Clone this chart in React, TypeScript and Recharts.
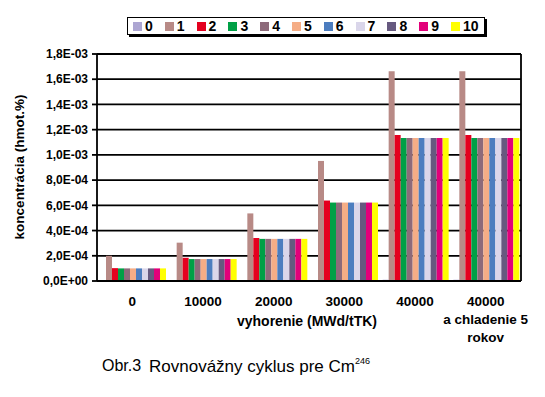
import React from "react";
import { BarChart, Bar, XAxis, YAxis, CartesianGrid, Legend, Label } from "recharts";

const categories = ["0", "10000", "20000", "30000", "40000", "40000\na chladenie 5\nrokov"];

const s0 = [0, 0, 0.000008, 0.000008, 0.00001, 0.00001];
const s1 = [0.0002, 0.000304, 0.000536, 0.000952, 0.001664, 0.001664];
const s2 = [0.000102, 0.000184, 0.000341, 0.000638, 0.001158, 0.001158];
const s3 = [0.0001, 0.000174, 0.000334, 0.000622, 0.001134, 0.001134];
const s4 = [0.0001, 0.000174, 0.000334, 0.000622, 0.001134, 0.001134];
const s5 = [0.0001, 0.000174, 0.000334, 0.000622, 0.001134, 0.001134];
const s6 = [0.0001, 0.000174, 0.000334, 0.000622, 0.001134, 0.001134];
const s7 = [0.0001, 0.000174, 0.000334, 0.000622, 0.001134, 0.001134];
const s8 = [0.0001, 0.000174, 0.000334, 0.000622, 0.001134, 0.001134];
const s9 = [0.0001, 0.000174, 0.000334, 0.000622, 0.001134, 0.001134];
const s10 = [0.0001, 0.000174, 0.000334, 0.000622, 0.001134, 0.001134];

const seriesNames = ["0", "1", "2", "3", "4", "5", "6", "7", "8", "9", "10"];
const seriesValues = [s0, s1, s2, s3, s4, s5, s6, s7, s8, s9, s10];
const seriesColors = [
  "#ada6d2",
  "#b88a86",
  "#e4001e",
  "#00a046",
  "#8d6a7a",
  "#f5ad86",
  "#4c7dbf",
  "#dad6ea",
  "#66597f",
  "#e2007a",
  "#ffff00",
];

const yTicks = [0, 0.0002, 0.0004, 0.0006, 0.0008, 0.001, 0.0012, 0.0014, 0.0016, 0.0018];

const data = categories.map((name, i) => {
  const row: Record<string, number | string> = { name };
  seriesNames.forEach((s, j) => {
    row["s" + s] = seriesValues[j][i];
  });
  return row;
});

const FONT = "'Liberation Sans', Arial, sans-serif";

function formatSci(v: number) {
  const [m, e] = v.toExponential(1).split("e");
  const sign = e.startsWith("-") ? "-" : "+";
  const exp = e.replace(/[+-]/, "").padStart(2, "0");
  return m.replace(".", ",") + "E" + sign + exp;
}

function CategoryTick(props: any) {
  const { x, y, payload } = props;
  const lines = String(payload.value).split("\n");
  return (
    <text x={x} y={y} textAnchor="middle" fontFamily={FONT} fontWeight="bold" fontSize={13.5} fill="#000">
      {lines.map((l, i) => (
        <tspan key={i} x={x} dy={i === 0 ? "0.71em" : 18}>
          {l}
        </tspan>
      ))}
    </text>
  );
}

function LegendBox() {
  return (
    <div
      style={{
        width: 358,
        height: 18,
        border: "1px solid #000",
        boxShadow: "2px 2px 0 #000",
        background: "#fff",
        display: "flex",
        alignItems: "center",
        paddingLeft: 5,
        boxSizing: "border-box",
        fontFamily: FONT,
        fontWeight: "bold",
        fontSize: 14,
      }}
    >
      {seriesNames.map((s, i) => (
        <div key={s} style={{ display: "flex", alignItems: "center", width: 31.8 }}>
          <span style={{ width: 9, height: 9, background: seriesColors[i], marginRight: 3, display: "inline-block" }} />
          <span style={{ lineHeight: "14px" }}>{s}</span>
        </div>
      ))}
    </div>
  );
}

export default function App() {
  return (
    <div style={{ position: "absolute", left: 0, top: 0, width: 545, height: 397, background: "#fff" }}>
      <BarChart
        width={545}
        height={397}
        data={data}
        margin={{ top: 54, right: 0, left: 0, bottom: 66 }}
        barCategoryGap={3}
        barGap={0}
      >
        <CartesianGrid vertical={false} stroke="#000" strokeWidth={1.8} />
        <XAxis
          dataKey="name"
          interval={0}
          height={50}
          tickLine={false}
          tickSize={6}
          tickMargin={9}
          axisLine={{ stroke: "#000", strokeWidth: 1.8 }}
          tick={<CategoryTick />}
        >
          <Label
            content={() => (
              <text x={307} y={321} textAnchor="middle" dominantBaseline="central" fontFamily={FONT} fontWeight="bold" fontSize={14} fill="#000">
                vyhorenie (MWd/tTK)
              </text>
            )}
          />
        </XAxis>
        <YAxis
          width={97}
          domain={[0, 0.0018]}
          ticks={yTicks}
          interval={0}
          tickFormatter={formatSci}
          tickSize={5}
          tickMargin={4}
          tickLine={{ stroke: "#000", strokeWidth: 1.8 }}
          axisLine={{ stroke: "#000", strokeWidth: 1.8 }}
          tick={{ fontFamily: FONT, fontWeight: "bold", fontSize: 12, fill: "#000" }}
        >
          <Label
            content={() => (
              <text
                x={19}
                y={167}
                transform="rotate(-90 19 167)"
                textAnchor="middle"
                dominantBaseline="central"
                fontFamily={FONT}
                fontWeight="bold"
                fontSize={13.5}
                fill="#000"
              >
                koncentrácia (hmot.%)
              </text>
            )}
          />
        </YAxis>
        <YAxis
          yAxisId="r"
          orientation="right"
          width={24}
          domain={[0, 0.0018]}
          tick={false}
          tickLine={false}
          axisLine={{ stroke: "#000", strokeWidth: 1.8 }}
        />
        <Legend
          layout="horizontal"
          verticalAlign="middle"
          align="center"
          content={() => <LegendBox />}
          wrapperStyle={{ position: "absolute", top: 17, left: 127, width: 362, height: 21 }}
        />
        {seriesNames.map((s, i) => (
          <Bar key={s} dataKey={"s" + s} name={s} fill={seriesColors[i]} isAnimationActive={false} />
        ))}
      </BarChart>
      <div
        style={{
          position: "absolute",
          left: 102,
          top: 357,
          fontFamily: FONT,
          fontSize: 16,
          color: "#000",
          whiteSpace: "nowrap",
        }}
      >
        Obr.3
      </div>
      <div
        style={{
          position: "absolute",
          left: 149,
          top: 356,
          fontFamily: FONT,
          fontSize: 17,
          color: "#000",
          whiteSpace: "nowrap",
        }}
      >
        Rovnovážny cyklus pre Cm
        <sup style={{ fontSize: 9, verticalAlign: "8px" }}>246</sup>
      </div>
    </div>
  );
}
